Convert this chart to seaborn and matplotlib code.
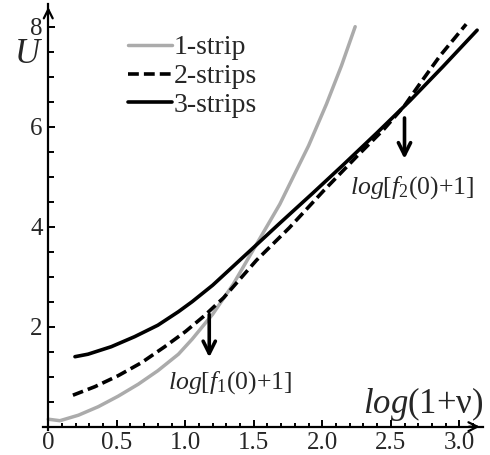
import numpy as np
import pandas as pd
import seaborn as sns
import matplotlib.pyplot as plt

# values
x_one = [0.0, 0.085, 0.22, 0.365, 0.51, 0.657, 0.80, 0.95, 1.05, 1.14, 1.20,
         1.35, 1.52, 1.69, 1.81, 1.90, 2.03, 2.14, 2.24]
u_one = [0.15, 0.12, 0.23, 0.40, 0.61, 0.85, 1.12, 1.45, 1.75, 2.05, 2.25,
         2.85, 3.65, 4.45, 5.12, 5.62, 6.45, 7.22, 8.0]

x_two = [0.18, 0.34, 0.51, 0.68, 0.85, 1.00, 1.14, 1.28, 1.52, 1.76, 2.01,
         2.25, 2.45, 2.60, 2.71, 2.86, 3.05]
u_two = [0.63, 0.80, 1.02, 1.28, 1.60, 1.90, 2.22, 2.58, 3.33, 3.98, 4.72,
         5.40, 5.95, 6.42, 6.85, 7.42, 8.05]

x_three = [0.195, 0.29, 0.46, 0.63, 0.80, 0.95, 1.05, 1.20, 1.485, 1.69, 1.93,
           2.15, 2.40, 2.64, 2.88, 3.13]
u_three = [1.40, 1.45, 1.60, 1.80, 2.03, 2.30, 2.50, 2.83, 3.55, 4.07, 4.67,
           5.23, 5.88, 6.52, 7.20, 7.93]

labels = ["1-strip", "2-strips", "3-strips"]

x_ticks = [0, 0.5, 1.0, 1.5, 2.0, 2.5, 3.0]
x_ticklabels = ["0", "0.5", "1.0", "1.5", "2.0", "2.5", "3.0"]
y_ticks = [2, 4, 6, 8]
y_ticklabels = ["2", "4", "6", "8"]

sns.set_style("white")
plt.rcParams["font.family"] = ["Liberation Serif", "DejaVu Serif"]
plt.rcParams["mathtext.fontset"] = "custom"
plt.rcParams["mathtext.rm"] = "Liberation Serif"
plt.rcParams["mathtext.it"] = "Liberation Serif:italic"

fig = plt.figure(figsize=(4.9, 4.55), dpi=100)
ax = fig.add_axes([0.0873, 0.0556, 0.8976, 0.9352])

sns.lineplot(x=x_one, y=u_one, ax=ax, color="#ababab", lw=2.5, label=labels[0])
sns.lineplot(x=x_two, y=u_two, ax=ax, color="black", lw=2.6,
             linestyle=(0, (3, 1.4)), label=labels[1])
sns.lineplot(x=x_three, y=u_three, ax=ax, color="black", lw=2.6, label=labels[2])

ax.set_xlim(-0.04, 3.17)
ax.set_ylim(-0.06, 8.45)

# axes through the origin with arrow heads
for side in ["top", "right"]:
    ax.spines[side].set_visible(False)
for side in ["bottom", "left"]:
    ax.spines[side].set_position(("data", 0))
    ax.spines[side].set_linewidth(1.6)
    ax.spines[side].set_color("black")
ax.annotate("", xy=(3.17, 0), xytext=(3.05, 0), annotation_clip=False,
            arrowprops=dict(arrowstyle="->", lw=1.6, color="black", mutation_scale=16))
ax.annotate("", xy=(0, 8.45), xytext=(0, 8.2), annotation_clip=False,
            arrowprops=dict(arrowstyle="->", lw=1.6, color="black", mutation_scale=16))

ax.set_xticks(x_ticks)
ax.set_xticklabels(x_ticklabels)
ax.set_xticks(np.arange(0.1, 3.15, 0.1), minor=True)
ax.set_yticks(y_ticks)
ax.set_yticklabels(y_ticklabels)
ax.set_yticks(np.arange(0.5, 8.1, 0.5), minor=True)
ax.tick_params(which="both", direction="in", width=1.4, color="black",
               labelsize=18, bottom=True, left=True)
ax.tick_params(axis="x", which="major", length=5, pad=4)
ax.tick_params(axis="x", which="minor", length=3)
ax.tick_params(axis="y", which="major", length=5, pad=4)
ax.tick_params(axis="y", which="minor", length=4)
ax.set_xlabel("")
ax.set_ylabel("")

ax.text(-0.245, 7.27, "U", fontsize=25, style="italic", ha="left", va="baseline")
ax.text(2.30, 0.27, r"$\mathit{log}\mathrm{(1}{+}\mathrm{ν)}$", fontsize=25,
        ha="left", va="baseline")

# marker arrows for the crossing points
ax.annotate("", xy=(1.175, 1.33), xytext=(1.175, 2.3),
            arrowprops=dict(arrowstyle="->", lw=2.6, color="black", mutation_scale=22))
ax.text(0.875, 0.77, r"$\mathit{log}[\mathit{f}_{\mathrm{1}}\mathrm{(0)}{+}\mathrm{1]}$",
        fontsize=18.5, ha="left", va="baseline")
ax.annotate("", xy=(2.60, 5.3), xytext=(2.60, 6.23),
            arrowprops=dict(arrowstyle="->", lw=2.6, color="black", mutation_scale=22))
ax.text(2.20, 4.67, r"$\mathit{log}[\mathit{f}_{\mathrm{2}}\mathrm{(0)}{+}\mathrm{1]}$",
        fontsize=18.5, ha="left", va="baseline")

ax.legend(loc="upper left", bbox_to_anchor=(128 / 490, 1 - 35 / 455),
          bbox_transform=fig.transFigure, frameon=False, fontsize=20,
          handlelength=1.6, handletextpad=0.05, labelspacing=0.12,
          borderpad=0, borderaxespad=0)

fig.savefig("out.png", dpi=100)
